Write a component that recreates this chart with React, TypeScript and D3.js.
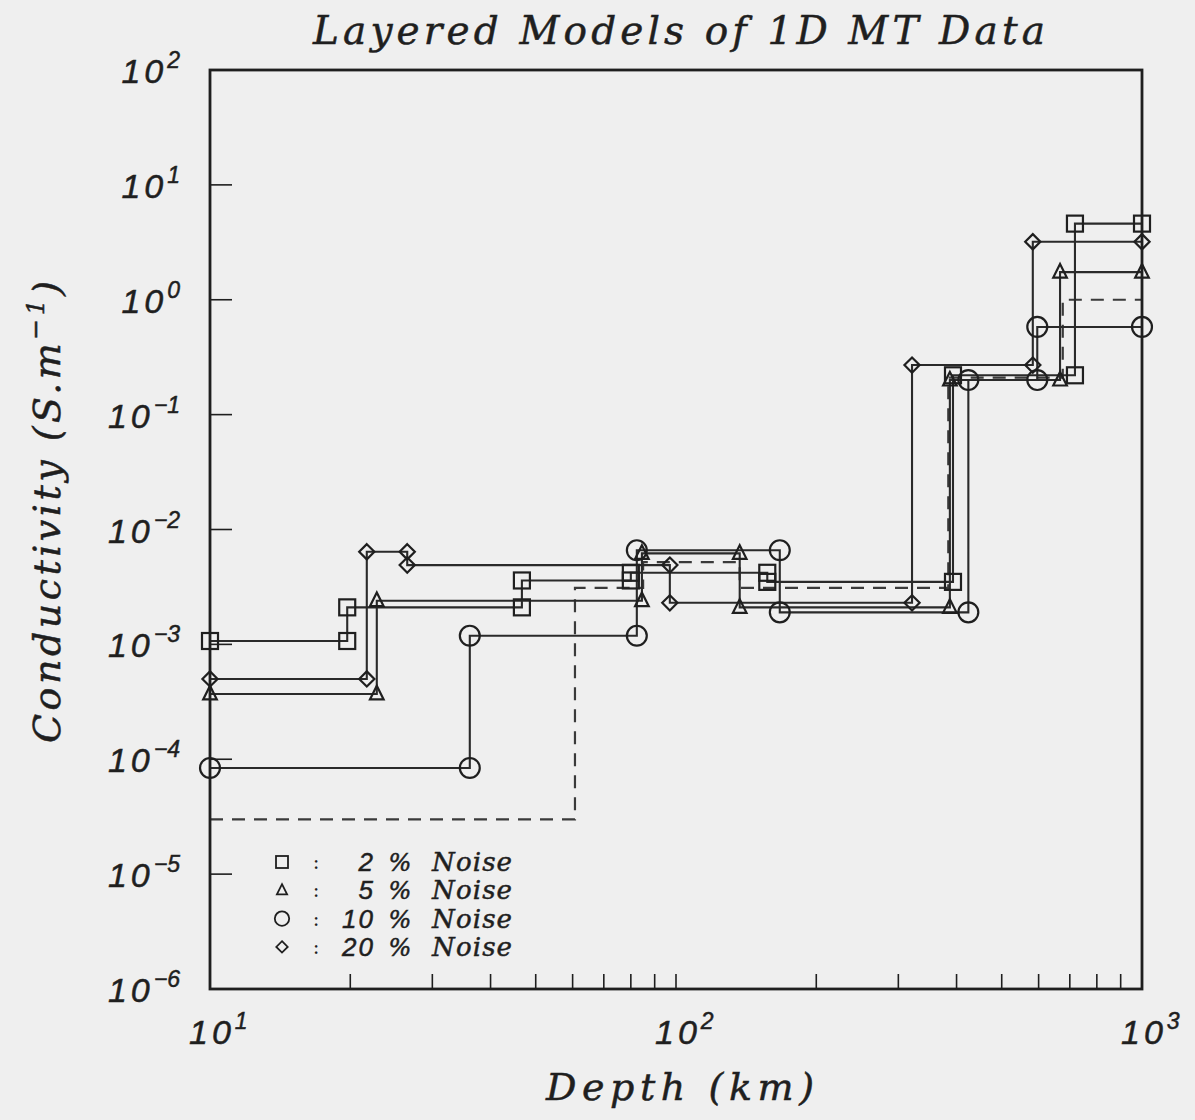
import React from "react";
import * as d3 from "d3";

// ---------- data ----------
// Depth boundaries (km) and layer conductivities (S/m) for each layered model
const sq2Depths = [10, 19.7, 46.7, 80, 157, 393, 718, 1000];
const sq2Values = [1.07e-3, 2.1e-3, 3.6e-3, 4.2e-3, 3.5e-3, 0.22, 4.6];

const tri5Depths = [10, 22.8, 84.5, 137, 387, 667, 1000];
const tri5Values = [3.7e-4, 2.4e-3, 6.2e-3, 2.1e-3, 0.2, 1.74];

const circ10Depths = [10, 36.1, 82.4, 167, 424, 596, 1000];
const circ10Values = [8.4e-5, 1.19e-3, 6.6e-3, 1.9e-3, 0.2, 0.58];

const dia20Depths = [10, 21.7, 26.5, 97, 321, 583, 1000];
const dia20Values = [5.0e-4, 6.4e-3, 4.9e-3, 2.3e-3, 0.27, 3.2];

// True model (dashed)
const trueDepths = [10, 60.7, 85, 137, 384, 676, 1000];
const trueValues = [3.0e-5, 3.1e-3, 5.2e-3, 3.1e-3, 0.21, 1.0];

const legendShapes = ["square", "triangle", "circle", "diamond"];
const legendNumbers = ["2", "5", "10", "20"];

const xTickExps = [1, 2, 3];
const yTickExps = [2, 1, 0, -1, -2, -3, -4, -5, -6];
const xMinorTicks = [20, 30, 40, 50, 60, 70, 80, 90, 100, 200, 300, 400, 500, 600, 700, 800, 900];

const titleText = "Layered Models of 1D MT Data";
const xLabelText = "Depth (km)";

// ---------- styling ----------
const W = 1195;
const H = 1120;
const M = { left: 210, right: 1142, top: 70, bottom: 989 };
const INK = "#1f1f1f";
const LINE = "#2a2a2a";
const SERIF = "'DejaVu Serif', 'Liberation Serif', serif";
const SANS = "'Liberation Sans', 'DejaVu Sans', sans-serif";

function Marker({ shape, cx, cy, s, sw = 2 }: { shape: string; cx: number; cy: number; s: number; sw?: number }) {
  const common = { fill: "none", stroke: INK, strokeWidth: sw };
  if (shape === "square") {
    return <rect x={cx - s} y={cy - s} width={2 * s} height={2 * s} {...common} />;
  }
  if (shape === "circle") {
    return <circle cx={cx} cy={cy} r={s * 1.2} {...common} />;
  }
  if (shape === "diamond") {
    const d = s * 0.95;
    return (
      <path
        d={`M${cx},${cy - d}L${cx + d},${cy}L${cx},${cy + d}L${cx - d},${cy}Z`}
        {...common}
      />
    );
  }
  // triangle
  const h = s * 1.7;
  const w = s * 0.85;
  return (
    <path
      d={`M${cx},${cy - h * 0.6}L${cx + w},${cy + h * 0.4}L${cx - w},${cy + h * 0.4}Z`}
      {...common}
    />
  );
}

export default function App() {
  const x = d3.scaleLog().domain([10, 1000]).range([M.left, M.right]);
  const y = d3.scaleLog().domain([1e-6, 1e2]).range([M.bottom, M.top]);

  const stepPath = (depths: number[], values: number[]) => {
    const pts: [number, number][] = [];
    values.forEach((v, i) => {
      pts.push([x(depths[i]), y(v)]);
      pts.push([x(depths[i + 1]), y(v)]);
    });
    return d3.line()(pts) as string;
  };

  const models = [
    { shape: "square", depths: sq2Depths, values: sq2Values, s: 8 },
    { shape: "triangle", depths: tri5Depths, values: tri5Values, s: 8 },
    { shape: "circle", depths: circ10Depths, values: circ10Values, s: 8.3 },
    { shape: "diamond", depths: dia20Depths, values: dia20Values, s: 8 },
  ];

  const sup = (e: number) => (e < 0 ? "\u2212" + Math.abs(e) : String(e));
  const textStroke = { stroke: INK, strokeWidth: 0.5 };

  return (
    <svg
      width={W}
      height={H}
      viewBox={`0 0 ${W} ${H}`}
      style={{ position: "absolute", left: 0, top: 0, display: "block" }}
    >
      <rect x={0} y={0} width={W} height={H} fill="#efefef" />

      {/* Title */}
      <text
        x={313}
        y={44}
        fontFamily={SERIF}
        fontStyle="italic"
        fontSize={39}
        fill={INK}
        {...textStroke}
        textLength={732}
        lengthAdjust="spacing"
      >
        {titleText}
      </text>

      {/* dashed true model */}
      <path
        d={stepPath(trueDepths, trueValues)}
        fill="none"
        stroke="#3a3a3a"
        strokeWidth={2.2}
        strokeDasharray="13,9"
      />

      {/* model lines */}
      {models.map((m) => (
        <path
          key={m.shape + "-line"}
          d={stepPath(m.depths, m.values)}
          fill="none"
          stroke={LINE}
          strokeWidth={2.1}
        />
      ))}

      {/* markers */}
      {models.map((m) =>
        m.values.map((v, i) => (
          <g key={m.shape + "-mk-" + i}>
            <Marker shape={m.shape} cx={x(m.depths[i])} cy={y(v)} s={m.s} sw={2.2} />
            <Marker shape={m.shape} cx={x(m.depths[i + 1])} cy={y(v)} s={m.s} sw={2.2} />
          </g>
        ))
      )}

      {/* frame */}
      <rect
        x={M.left}
        y={M.top}
        width={M.right - M.left}
        height={M.bottom - M.top}
        fill="none"
        stroke={INK}
        strokeWidth={2.8}
      />

      {/* x minor ticks (inward) */}
      {xMinorTicks.map((t) => (
        <line
          key={"xt" + t}
          x1={x(t)}
          x2={x(t)}
          y1={M.bottom}
          y2={M.bottom - 15}
          stroke={INK}
          strokeWidth={1.6}
        />
      ))}

      {/* y decade ticks (inward) */}
      {yTickExps.map((e) => (
        <line
          key={"yt" + e}
          x1={M.left}
          x2={M.left + 22}
          y1={y(Math.pow(10, e))}
          y2={y(Math.pow(10, e))}
          stroke={INK}
          strokeWidth={1.6}
        />
      ))}

      {/* y tick labels */}
      {yTickExps.map((e) => (
        <text
          key={"yl" + e}
          x={180}
          y={y(Math.pow(10, e)) + 13}
          textAnchor="end"
          fontFamily={SANS}
          fontStyle="italic"
          fontSize={34}
          fill={INK}
          {...textStroke}
        >
          <tspan letterSpacing={4}>10</tspan>
          <tspan fontSize={23} dy={-15}>
            {sup(e)}
          </tspan>
        </text>
      ))}

      {/* x tick labels */}
      {xTickExps.map((e) => (
        <text
          key={"xl" + e}
          x={x(Math.pow(10, e)) - 21}
          y={1044}
          textAnchor="start"
          fontFamily={SANS}
          fontStyle="italic"
          fontSize={34}
          fill={INK}
          {...textStroke}
        >
          <tspan letterSpacing={4}>10</tspan>
          <tspan fontSize={23} dy={-15}>
            {sup(e)}
          </tspan>
        </text>
      ))}

      {/* x axis label */}
      <text
        x={680}
        y={1100}
        textAnchor="middle"
        fontFamily={SERIF}
        fontStyle="italic"
        fontSize={38}
        fill={INK}
        {...textStroke}
        textLength={268}
        lengthAdjust="spacing"
      >
        {xLabelText}
      </text>

      {/* y axis label */}
      <text
        transform="translate(60,512) rotate(-90)"
        textAnchor="middle"
        fontFamily={SERIF}
        fontStyle="italic"
        fontSize={38}
        fill={INK}
        {...textStroke}
        textLength={462}
        lengthAdjust="spacing"
      >
        <tspan>Conductivity (S.m</tspan>
        <tspan fontSize={25} dy={-16}>
          {"\u22121"}
        </tspan>
        <tspan dy={16}>)</tspan>
      </text>

      {/* legend */}
      {legendShapes.map((s, i) => {
        const cy = 862 + i * 28.3;
        return (
          <g key={"lg" + s}>
            <Marker shape={s} cx={282} cy={cy} s={6} sw={1.8} />
            <text
              x={316}
              y={cy + 7}
              textAnchor="middle"
              fontFamily={SERIF}
              fontSize={20}
              fill={INK}
            >
              :
            </text>
            <text
              x={375}
              y={cy + 9}
              textAnchor="end"
              fontFamily={SANS}
              fontStyle="italic"
              fontSize={26}
              fill={INK}
              letterSpacing={2}
              {...textStroke}
            >
              {legendNumbers[i]}
            </text>
            <text
              x={400}
              y={cy + 9}
              textAnchor="middle"
              fontFamily={SERIF}
              fontStyle="italic"
              fontSize={24}
              fill={INK}
              {...textStroke}
            >
              %
            </text>
            <text
              x={432}
              y={cy + 9}
              fontFamily={SERIF}
              fontStyle="italic"
              fontSize={26}
              fill={INK}
              {...textStroke}
              textLength={80}
              lengthAdjust="spacing"
            >
              Noise
            </text>
          </g>
        );
      })}
    </svg>
  );
}
